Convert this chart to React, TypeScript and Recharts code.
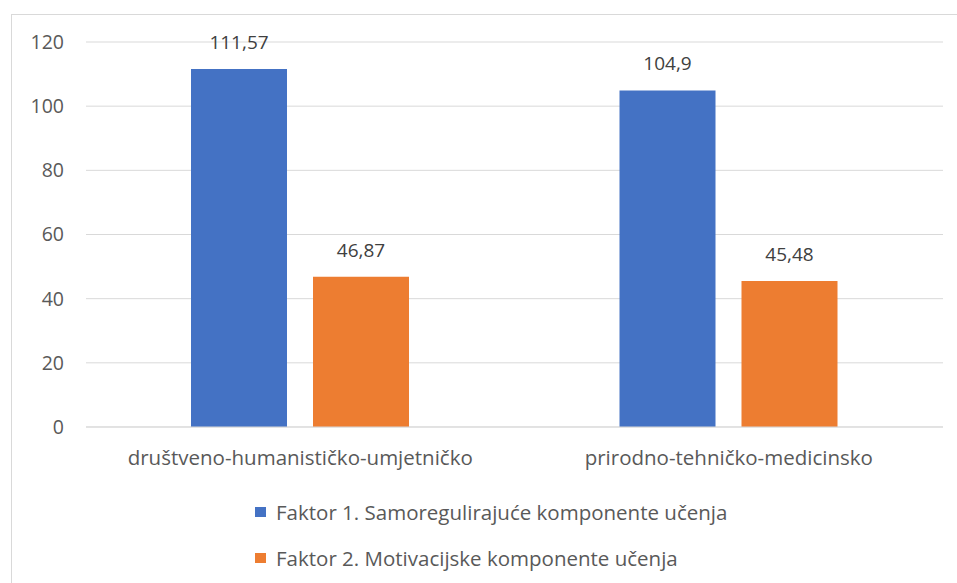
import { BarChart, Bar, XAxis, YAxis, CartesianGrid, LabelList } from 'recharts'

const categories = ['društveno-humanističko-umjetničko', 'prirodno-tehničko-medicinsko']
const faktor1 = [111.57, 104.9]
const faktor2 = [46.87, 45.48]
const yTicks = [0, 20, 40, 60, 80, 100, 120]

const SERIES = [
  { key: 'f1', name: 'Faktor 1. Samoregulirajuće komponente učenja', color: '#4472C4' },
  { key: 'f2', name: 'Faktor 2. Motivacijske komponente učenja', color: '#ED7D31' },
]

const data = categories.map((c, i) => ({ name: c, f1: faktor1[i], f2: faktor2[i] }))

const FONT = '"Open Sans", "Noto Sans", sans-serif'

const fmt = (v: unknown) => String(v).replace('.', ',')

export default function App() {
  return (
    <div style={{ position: 'absolute', left: 0, top: 0, width: 957, height: 583, background: '#fff', overflow: 'hidden' }}>
      <div style={{ position: 'absolute', left: 11, top: 14, width: 1000, height: 600, borderLeft: '1px solid #d9d9d9', borderTop: '1px solid #d9d9d9' }} />
      <BarChart
        width={957}
        height={583}
        data={data}
        margin={{ top: 42, right: 14, bottom: 126, left: 0 }}
        barSize={96}
        barGap={26}
        style={{ position: 'absolute', left: 0, top: 0 }}
      >
        <CartesianGrid vertical={false} stroke="#d9d9d9" />
        <XAxis
          dataKey="name"
          height={30}
          axisLine={{ stroke: '#d9d9d9' }}
          tickLine={false}
          tickMargin={17}
          tick={{ fill: '#595959', fontSize: 20.5, fontFamily: FONT }}
          interval={0}
        />
        <YAxis
          width={86}
          domain={[0, 120]}
          ticks={yTicks}
          axisLine={false}
          tickLine={false}
          tickMargin={16}
          tick={{ fill: '#595959', fontSize: 19.5, fontFamily: FONT }}
        />
        {SERIES.map((s) => (
          <Bar key={s.key} dataKey={s.key} name={s.name} fill={s.color} isAnimationActive={false}>
            <LabelList
              dataKey={s.key}
              position="top"
              offset={20}
              formatter={fmt}
              style={{ fill: '#404040', fontSize: 19, fontFamily: FONT }}
            />
          </Bar>
        ))}
      </BarChart>
      {/* legend */}
      <div style={{ position: 'absolute', left: 255, top: 489, fontFamily: FONT, fontSize: 20.5, color: '#595959' }}>
        {SERIES.map((s) => (
          <div key={s.key} style={{ display: 'flex', alignItems: 'center', height: 46, whiteSpace: 'nowrap' }}>
            <div style={{ width: 11, height: 10, background: s.color, marginRight: 10 }} />
            <span>{s.name}</span>
          </div>
        ))}
      </div>
    </div>
  )
}
